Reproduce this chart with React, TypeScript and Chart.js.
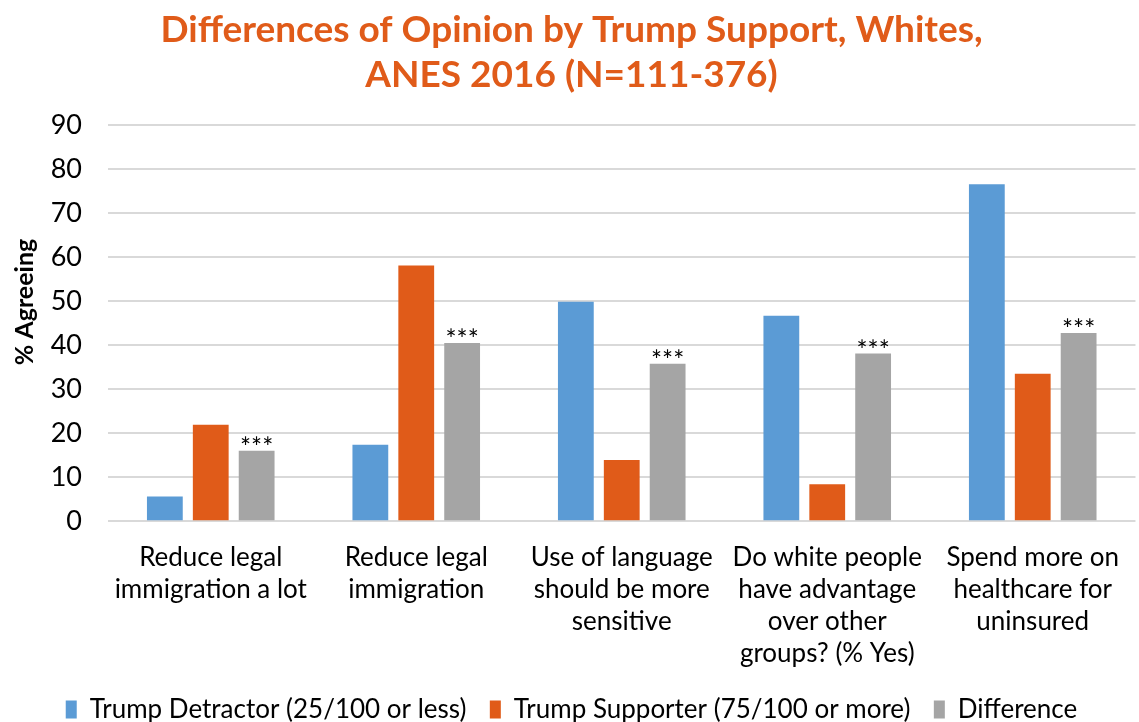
import React, { useEffect, useRef } from "react";
import { Chart, registerables } from "chart.js";

Chart.register(...registerables);

const titleLines = ["Differences of Opinion by Trump Support, Whites,", "ANES 2016 (N=111-376)"];
const categories: string[][] = [
  ["Reduce legal", "immigration a lot"],
  ["Reduce legal", "immigration"],
  ["Use of language", "should be more", "sensitive"],
  ["Do white people", "have advantage", "over other", "groups? (% Yes)"],
  ["Spend more on", "healthcare for", "uninsured"],
];
const seriesNames = ["Trump Detractor (25/100 or less)", "Trump Supporter (75/100 or more)", "Difference"];
const detractor = [5.6, 17.4, 49.9, 46.7, 76.6];
const supporter = [21.9, 58.1, 13.9, 8.4, 33.5];
const difference = [16.0, 40.5, 35.8, 38.1, 42.8];
const significance = ["***", "***", "***", "***", "***"];
const yTitle = "% Agreeing";
const colors = ["#5B9BD5", "#E05B19", "#A5A5A5"];

const starPlugin = {
  id: "stars",
  afterDatasetsDraw(chart: any) {
    const meta = chart.getDatasetMeta(2);
    const ctx = chart.ctx;
    ctx.save();
    ctx.font = "26px Lato";
    ctx.fillStyle = "#000";
    ctx.textAlign = "center";
    ctx.textBaseline = "alphabetic";
    meta.data.forEach((el: any, i: number) => {
      ctx.fillText(significance[i], el.x, el.y + 6);
    });
    ctx.restore();
  },
};

const yTitlePlugin = {
  id: "yTitle",
  afterDraw(chart: any) {
    const ctx = chart.ctx;
    ctx.save();
    ctx.translate(25, 302);
    ctx.rotate(-Math.PI / 2);
    ctx.font = "bold 25px Lato";
    ctx.fillStyle = "#000";
    ctx.textAlign = "center";
    ctx.textBaseline = "middle";
    ctx.fillText(yTitle, 0, 0);
    ctx.restore();
  },
};

export default function App() {
  const ref = useRef<HTMLCanvasElement>(null);
  useEffect(() => {
    if (!ref.current) return;
    const chart = new Chart(ref.current, {
      type: "bar",
      data: {
        labels: categories,
        datasets: [
          { label: seriesNames[0], data: detractor, backgroundColor: colors[0] },
          { label: seriesNames[1], data: supporter, backgroundColor: colors[1] },
          { label: seriesNames[2], data: difference, backgroundColor: colors[2] },
        ],
      },
      options: {
        responsive: false,
        animation: false,
        layout: { padding: { left: 4, right: 0, top: 0, bottom: -10.6 } },
        datasets: { bar: { categoryPercentage: 0.67, barPercentage: 0.78 } },
        plugins: {
          title: {
            display: true,
            text: titleLines,
            color: "#E05B19",
            font: { family: "Lato", size: 37, weight: "bold", lineHeight: 1.22 },
            padding: { top: 7, bottom: 28 },
          },
          legend: {
            position: "bottom",
            labels: {
              color: "#000",
              font: { family: "Lato", size: 26 },
              boxWidth: 11,
              boxHeight: 18,
              padding: 23.4,
            },
          },
          tooltip: { enabled: false },
        },
        scales: {
          x: {
            grid: { display: false, drawTicks: false },
            border: { display: false },
            ticks: {
              color: "#000",
              font: { family: "Lato", size: 26, lineHeight: 1.23 },
              padding: 20,
              maxRotation: 0,
              autoSkip: false,
            },
            afterFit: (s: any) => {
              s.height = 152;
            },
          },
          y: {
            min: 0,
            max: 90,
            grid: { color: "#D9D9D9", lineWidth: 2, drawTicks: false },
            border: { display: false },
            ticks: {
              stepSize: 10,
              color: "#000",
              font: { family: "Lato", size: 27 },
              padding: 26,
            },
            afterFit: (s: any) => {
              s.width = 104;
            },
          },
        },
      },
      plugins: [starPlugin, yTitlePlugin],
    });
    return () => chart.destroy();
  }, []);
  return (
    <div style={{ position: "fixed", left: 0, top: 0, width: 1139, height: 722, background: "#fff" }}>
      <canvas ref={ref} width={1139} height={722} style={{ width: 1139, height: 722 }} />
    </div>
  );
}
